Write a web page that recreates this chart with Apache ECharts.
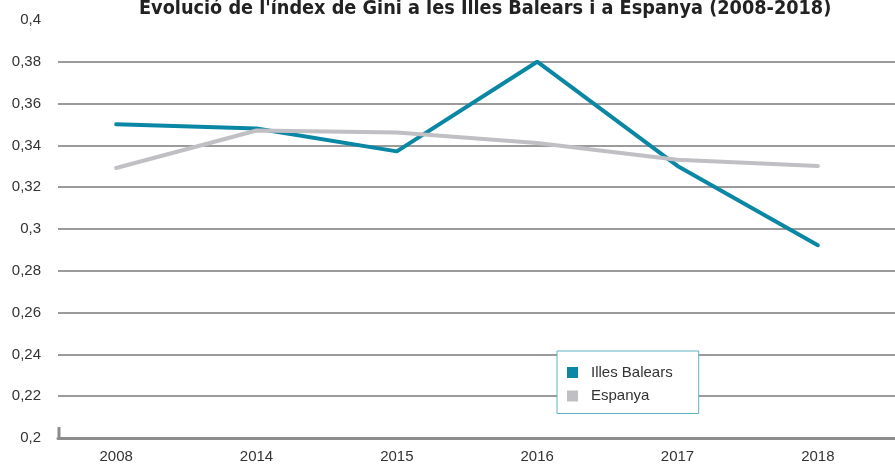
<!DOCTYPE html>
<html>
<head>
<meta charset="utf-8">
<script src="https://cdn.jsdelivr.net/npm/echarts@6/dist/echarts.min.js"></script>
<style>
    html, body { margin: 0; padding: 0; background: #fff; }
    #chart { width: 895px; height: 464px; }
</style>
</head>
<body>
<div id="chart"></div>
<script>
// dades
var years = ['2008', '2014', '2015', '2016', '2017', '2018'];
var balears = [0.350, 0.348, 0.337, 0.380, 0.330, 0.292];
var espanya = [0.329, 0.347, 0.346, 0.341, 0.333, 0.330];
var seriesNames = ['Illes Balears', 'Espanya'];

var chart = echarts.init(document.getElementById('chart'));
var labelFont = 'Liberation Sans';

chart.setOption({
    animation: false,
    title: {
        text: "Evolució de l'índex de Gini a les Illes Balears i a Espanya (2008-2018)",
        left: 134,
        top: -6,
        textStyle: {
            fontFamily: 'DejaVu Sans Condensed',
            fontWeight: 'bold',
            fontSize: 19.7,
            color: '#222'
        }
    },
    legend: {
        data: seriesNames,
        orient: 'vertical',
        left: 557,
        top: 351,
        padding: [14, 26, 10, 10],
        itemWidth: 11,
        itemHeight: 11,
        itemGap: 8.5,
        icon: 'rect',
        backgroundColor: '#fff',
        borderColor: '#5eb3c3',
        borderWidth: 1,
        borderRadius: 0,
        textStyle: {
            fontFamily: labelFont,
            fontSize: 15,
            color: '#333',
            padding: [0, 0, 0, 8]
        }
    },
    // grid 0: línies de la graella i eix; grid 1: categories i sèries
    grid: [
        { left: 58, right: 0, top: 20, bottom: 26 },
        { left: 46, right: 7, top: 20, bottom: 26 }
    ],
    xAxis: [{
        type: 'value',
        gridIndex: 0,
        min: 0,
        max: 1,
        axisLine: { show: true, lineStyle: { color: '#8c8c8c', width: 3 } },
        axisTick: { show: false },
        axisLabel: { show: false },
        splitLine: { show: false }
    }, {
        type: 'category',
        gridIndex: 1,
        data: years,
        axisLine: { show: false },
        axisTick: { show: false },
        axisLabel: {
            margin: 12,
            fontFamily: labelFont,
            fontSize: 15,
            color: '#333'
        }
    }],
    yAxis: [{
        type: 'value',
        gridIndex: 0,
        min: 0.2,
        max: 0.4,
        interval: 0.02,
        axisLine: { show: false },
        axisTick: { show: false },
        axisLabel: {
            margin: 17,
            fontFamily: labelFont,
            fontSize: 15,
            color: '#333',
            formatter: function (v) {
                return String(+v.toFixed(2)).replace('.', ',');
            }
        },
        splitLine: {
            show: true,
            showMaxLine: false,
            showMinLine: false,
            lineStyle: { color: '#9b9b9b', width: 2 }
        }
    }, {
        type: 'value',
        gridIndex: 1,
        min: 0.2,
        max: 0.4,
        interval: 0.02,
        show: false
    }],
    graphic: [{
        type: 'line',
        shape: { x1: 59, y1: 427, x2: 59, y2: 438 },
        style: { stroke: '#8c8c8c', lineWidth: 3 }
    }],
    series: [{
        name: seriesNames[0],
        type: 'line',
        xAxisIndex: 1,
        yAxisIndex: 1,
        data: balears,
        symbol: 'none',
        color: '#0a87a4',
        lineStyle: { width: 4, color: '#0a87a4', cap: 'round' }
    }, {
        name: seriesNames[1],
        type: 'line',
        xAxisIndex: 1,
        yAxisIndex: 1,
        data: espanya,
        symbol: 'none',
        color: '#c0c0c4',
        lineStyle: { width: 4, color: '#c0c0c4', cap: 'round' }
    }]
});
</script>
</body>
</html>
